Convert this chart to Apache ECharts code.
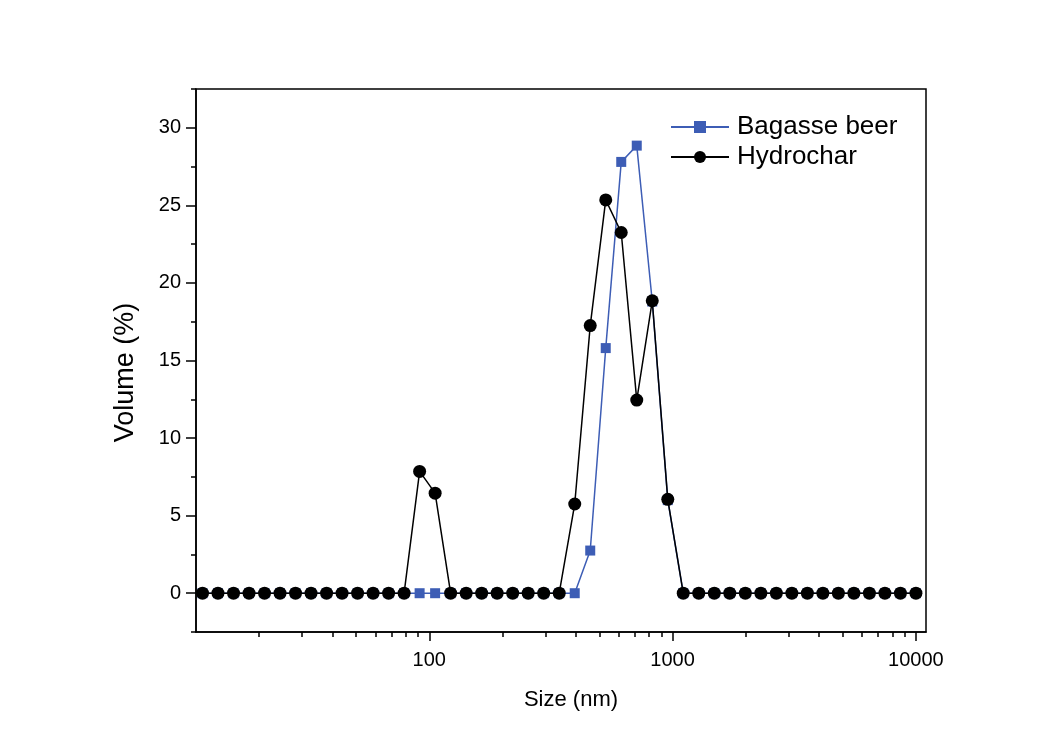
<!DOCTYPE html>
<html>
<head>
<meta charset="utf-8">
<script src="https://cdn.jsdelivr.net/npm/echarts@6/dist/echarts.min.js"></script>
<style>
html,body{margin:0;padding:0;background:#fff;}
#chart{width:1060px;height:749px;}
</style>
</head>
<body>
<div id="chart"></div>
<script>
const sizes = [11.7, 13.54, 15.69, 18.17, 21.04, 24.36, 28.21, 32.67, 37.84, 43.82, 50.75, 58.77, 68.06, 78.82, 91.28, 105.7, 122.4, 141.8, 164.2, 190.1, 220.2, 255, 295.3, 342, 396.1, 458.7, 531.2, 615.1, 712.4, 825, 955.4, 1106, 1281, 1484, 1718, 1990, 2305, 2669, 3091, 3580, 4145, 4801, 5560, 6439, 7456, 8635, 10000];
const bagasse = [0,0,0,0,0,0,0,0,0,0,0,0,0,0, 0, 0, 0,0,0,0,0,0,0,0, 0, 2.75, 15.8, 27.8, 28.85, 18.8, 6.0, 0, 0,0,0,0,0,0,0,0,0,0,0,0,0,0,0];
const hydrochar = [0,0,0,0,0,0,0,0,0,0,0,0,0,0, 7.85, 6.45, 0,0,0,0,0,0,0,0, 5.75, 17.25, 25.35, 23.25, 12.45, 18.85, 6.05, 0, 0,0,0,0,0,0,0,0,0,0,0,0,0,0,0];
const xMajorTicks = [100, 1000, 10000];
const xMinorTicks = [20,30,40,50,60,70,80,90,200,300,400,500,600,700,800,900,2000,3000,4000,5000,6000,7000,8000,9000];
const yMajorTicks = [0, 5, 10, 15, 20, 25, 30];
const yMinorTicks = [-2.5, 2.5, 7.5, 12.5, 17.5, 22.5, 27.5, 32.5];
const seriesNames = ['Bagasse beer', 'Hydrochar'];
const colors = ['#3D5DB5', '#000000'];

const FONT = 'Liberation Sans, Arial, sans-serif';
const chart = echarts.init(document.getElementById('chart'), null, {renderer: 'canvas'});
const pair = (xs, ys) => xs.map((x, i) => [x, ys[i]]);

const option = {
  backgroundColor: '#ffffff',
  animation: false,
  grid: {left: 196, right: 134, top: 89, bottom: 117, show: true, borderColor: '#000', borderWidth: 1.5, backgroundColor: 'transparent'},
  legend: {
    data: seriesNames,
    orient: 'vertical',
    left: 670,
    top: 114,
    padding: 0,
    itemWidth: 58,
    itemHeight: 15,
    itemGap: 4,
    textStyle: {fontFamily: FONT, fontSize: 26, color: '#000', padding: [0,0,0,3]}
  },
  xAxis: [{
    type: 'log', logBase: 10, min: 11, max: 11000,
    name: 'Size (nm)', nameLocation: 'middle', nameGap: 57,
    nameTextStyle: {fontFamily: FONT, fontSize: 22, color: '#000', padding: [0,0,0,20]},
    axisLine: {show: true, onZero: false, lineStyle: {color: '#000', width: 1.5}},
    axisTick: {show: true, inside: false, length: 9, customValues: xMajorTicks, lineStyle: {color: '#000', width: 1.5}},
    axisLabel: {customValues: xMajorTicks, margin: 18, fontFamily: FONT, fontSize: 20, color: '#000', formatter: v => String(Math.round(v))},
    splitLine: {show: false}, minorTick: {show: false}
  }, {
    type: 'log', logBase: 10, min: 11, max: 11000, position: 'bottom', offset: 0,
    axisLine: {show: false, onZero: false},
    axisTick: {show: true, inside: false, length: 5, customValues: xMinorTicks, lineStyle: {color: '#000', width: 1.5}},
    axisLabel: {show: false}, splitLine: {show: false}
  }],
  yAxis: [{
    type: 'value', min: -2.5, max: 32.5,
    name: 'Volume (%)', nameLocation: 'middle', nameGap: 57,
    nameTextStyle: {fontFamily: FONT, fontSize: 27, color: '#000', padding: [0,24,0,0]},
    axisLine: {show: true, onZero: false, lineStyle: {color: '#000', width: 1.5}},
    axisTick: {show: true, inside: false, length: 10, customValues: yMajorTicks, lineStyle: {color: '#000', width: 1.5}},
    axisLabel: {customValues: yMajorTicks, margin: 15, fontFamily: FONT, fontSize: 20, color: '#000'},
    splitLine: {show: false}
  }, {
    type: 'value', min: -2.5, max: 32.5, position: 'left', offset: 0,
    axisLine: {show: false, onZero: false},
    axisTick: {show: true, inside: false, length: 5, customValues: yMinorTicks, lineStyle: {color: '#000', width: 1.5}},
    axisLabel: {show: false}, splitLine: {show: false}
  }],
  series: [{
    name: seriesNames[0], type: 'line', xAxisIndex: 0, yAxisIndex: 0,
    data: pair(sizes, bagasse),
    symbol: 'rect', symbolSize: 10,
    itemStyle: {color: colors[0]},
    lineStyle: {color: colors[0], width: 1.5},
    z: 2
  }, {
    name: seriesNames[1], type: 'line', xAxisIndex: 0, yAxisIndex: 0,
    data: pair(sizes, hydrochar),
    symbol: 'circle', symbolSize: 13,
    itemStyle: {color: colors[1]},
    lineStyle: {color: colors[1], width: 1.5},
    z: 3
  }]
};
chart.setOption(option);
</script>
</body>
</html>
